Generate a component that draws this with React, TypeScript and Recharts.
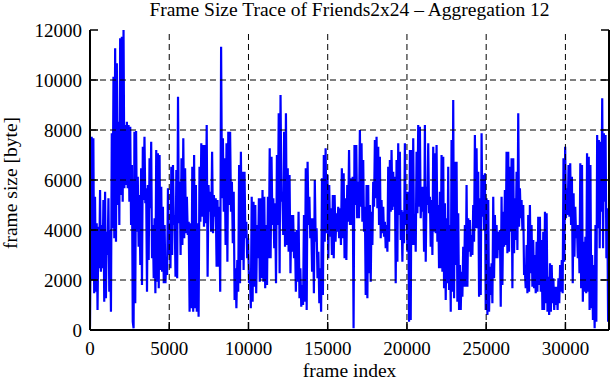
import React from "react";
import { Line, LineChart, ReferenceLine, XAxis, YAxis } from "recharts";

// frame size readings (byte), one array per stretch of the trace
const sizes1 = [
  130, 5100, 7730, 2000, 7670, 1470, 5330, 1530, 4270, 800, 4130, 2470, 5600, 2330, 4200, 2470, 5200, 1130,
  5530, 1270, 3930, 3000, 5270, 1530, 4000, 730, 7870, 4070, 10130, 3670, 11270, 3530, 10670, 5000, 8330,
  4200, 11670, 5400, 11730, 5130, 12000, 5670, 8200, 5800, 8330, 5670, 8200, 5130, 8130, 4200, 6600, 330, 70,
  7930, 1070, 7960, 3930, 6130, 3330, 5400, 2600, 6470, 1800, 7330, 5200, 7730, 5070, 5670, 1530, 5800, 2800,
  6870, 4870, 7530, 2870, 4200, 2070, 4470, 1470, 7200, 1930, 7070, 1670, 7000, 2400, 5730, 2330, 4930, 1870,
  4200, 1870, 2930, 2200, 5670, 3000, 4270, 2470, 6530, 3000, 6600, 4200, 4600, 2130, 6400, 2070, 9330, 4270,
];
const sizes2 = [
  5930, 3000, 6870, 3400, 7670, 3670, 6470, 3870, 5330, 3800, 4330, 730, 4270, 870, 6530, 730, 7000, 870, 5800,
  730, 4270, 530, 6530, 4330, 7470, 4530, 7400, 4130, 7400, 4270, 8200, 2130, 5800, 4730, 5530, 3930, 7130,
  3870, 5400, 4530, 5270, 2530, 5200, 2530, 4930, 1530, 11330, 5270, 7670, 4730, 6870, 3400, 7470, 2730, 7930,
  5000, 7930, 4730, 5930, 3470, 5530, 1200, 2470, 870, 2800, 1530, 6600, 1870, 7130, 2800, 6330, 2400, 6330,
  3670, 4330, 2870, 3670, 1870, 2330, 870, 5330, 1130, 5130, 1730, 5000, 1470, 4200, 2870, 5270, 1930, 5270,
  2070, 5600, 1930, 5330, 1670, 4200, 1800, 5330, 2870,
];
const sizes3 = [
  7270, 2870, 6930, 4200, 5270, 3270, 5070, 1870, 7000, 4200, 8670, 2270, 9400, 5130, 5530, 3800, 7930, 3330,
  8670, 3400, 6470, 3130, 6200, 2270, 4600, 3130, 4600, 2870, 3930, 1530, 4000, 1930, 4730, 1270, 2470, 930,
  1800, 1000, 4600, 1130, 6470, 800, 6730, 4200, 5330, 3670, 4470, 2330, 4470, 1470, 6000, 3530, 4070, 2070,
  3130, 1070, 2470, 730, 6070, 1400, 7000, 3530, 7270, 3870, 6200, 2870, 5800, 3730, 4870, 3000, 5400, 2870,
  5400, 3530, 4670, 3930, 4930, 3670, 4870, 3400, 6470, 3670, 6270, 2870, 5270, 2800, 5800, 4330, 7200, 4200,
  6070, 4200, 6130, 70, 7400, 5000, 7400, 4470, 5930, 4470,
];
const sizes4 = [
  8000, 4930, 7470, 4330, 6800, 3930, 4930, 1400, 5800, 1270, 5800, 2270, 5000, 1930, 4730, 3400, 5930, 4930,
  7600, 5270, 7730, 4870, 7330, 4200, 6930, 3670, 5200, 3870, 4930, 3730, 4330, 3270, 4200, 3130, 6530, 3530,
  6800, 4730, 7200, 4800, 6330, 4930, 6130, 1870, 6800, 2730, 7470, 4600, 7130, 3600, 4800, 2730, 4730, 3470,
  7470, 4200, 5530, 3130, 5530, 330, 7200, 400, 7200, 3400, 7670, 3400, 4600, 3130, 7130, 4670, 8200, 4930,
  8130, 4470, 5730, 4730, 5730, 3130, 8200, 2730, 5730, 5000, 7470, 4670, 5330, 3330, 5200, 3000, 7330, 3930,
  7070, 3870, 7400, 3530, 5000, 2470, 5530, 2470, 7000, 2330, 6930, 1670, 5070, 1200, 4470, 1870, 6530, 1600,
];
const sizes5 = [
  4200, 730, 7600, 1530, 9200, 1270, 6730, 2600, 6730, 1130, 4670, 800, 2600, 800, 2330, 1330, 3330, 1730,
  4200, 1730, 5800, 1730, 4470, 3130, 4400, 2930, 3800, 3000, 5000, 3530, 7800, 4070, 7270, 4070, 6330, 1330,
  5270, 1400, 7870, 4530, 6200, 4000, 6270, 800, 5270, 600, 5200, 730, 2530, 1400, 2670, 1070, 5330, 2070,
  4600, 2870, 4200, 2870, 3930, 3200, 4000, 930, 5330, 1800, 4730, 3330, 5600, 3400, 7130, 3070, 7130, 3130,
  6530, 3930, 6870, 1670, 6870, 3070, 5270, 3600, 6330, 3200, 8670, 4130, 5670, 4470, 5200, 4000, 5000, 2200,
  2330, 1670, 3400, 1470, 4600, 1530, 5000, 2270, 4200, 1730, 3600, 1670, 3000, 1470, 3530, 1530, 4530, 1800,
];
const sizes6 = [
  4530, 1530, 3600, 800, 3930, 800, 4730, 1070, 4670, 730, 2130, 600, 2670, 730, 2600, 1070, 2070, 800, 1730,
  1000, 1730, 800, 2070, 1070, 2600, 1530, 2800, 1470, 6870, 2730, 7330, 4470, 5670, 4600, 6600, 4530, 6670,
  4200, 6130, 1870, 5470, 2930, 4930, 3670, 4200, 2870, 4200, 2270, 6670, 1670, 6600, 1130, 3530, 1530, 3730,
  1470, 7070, 1530, 6930, 800, 6600, 870, 3000, 400, 2600, 70, 4200, 330, 7800, 4070, 7600, 3270, 7530, 4730,
  9270, 3270, 7870, 5130, 7800, 2870, 4870, 330, 3130,
];

// frame index range covered by each stretch
const stretchStart = [0, 5660, 11340, 17030, 22710, 28390];
const stretchEnd = [5660, 11340, 17030, 22710, 28390, 32800];

const xTicks = [0, 5000, 10000, 15000, 20000, 25000, 30000];
const yTicks = [0, 2000, 4000, 6000, 8000, 10000, 12000];
const xGrid = [5000, 10000, 15000, 20000, 25000, 30000];
const yGrid = [2000, 4000, 6000, 8000, 10000];

const stretches = [sizes1, sizes2, sizes3, sizes4, sizes5, sizes6];
const data = stretches.flatMap((vals, s) =>
  vals.map((size, j) => ({
    frame: Math.round(stretchStart[s] + ((stretchEnd[s] - stretchStart[s]) * j) / vals.length),
    size,
  }))
);

const FONT = '"Liberation Serif", "Times New Roman", serif';
const TICK_LEN = 8;

function BottomTick({ x, y, payload }: any) {
  return (
    <g>
      <line x1={x} y1={y} x2={x} y2={y - TICK_LEN} stroke="#000" strokeWidth={1.5} />
      <text x={x} y={y + 25} textAnchor="middle" fontSize={19} fontFamily={FONT} fill="#000">
        {payload.value}
      </text>
    </g>
  );
}

function TopTick({ x, y }: any) {
  return <line x1={x} y1={y} x2={x} y2={y + TICK_LEN} stroke="#000" strokeWidth={1.5} />;
}

function LeftTick({ x, y, payload }: any) {
  return (
    <g>
      <line x1={x} y1={y} x2={x + TICK_LEN} y2={y} stroke="#000" strokeWidth={1.5} />
      <text x={x - 8} y={y + 7} textAnchor="end" fontSize={19} fontFamily={FONT} fill="#000">
        {payload.value}
      </text>
    </g>
  );
}

function RightTick({ x, y }: any) {
  return <line x1={x} y1={y} x2={x - TICK_LEN} y2={y} stroke="#000" strokeWidth={1.5} />;
}

const border = { stroke: "#000", strokeWidth: 2 };

export default function App() {
  return (
    <div style={{ position: "absolute", left: 0, top: 0, width: 611, height: 380, background: "#fff" }}>
      <svg width={611} height={30} style={{ position: "absolute", left: 0, top: 0 }}>
        <text x={349.5} y={16} textAnchor="middle" fontSize={19.5} fontFamily={FONT} fill="#000">
          Frame Size Trace of Friends2x24 – Aggregation 12
        </text>
      </svg>
      <LineChart width={611} height={380} data={data} margin={{ top: 30, right: 1, bottom: 0, left: 0 }}>
        <XAxis
          dataKey="frame"
          type="number"
          domain={[0, 32750]}
          allowDataOverflow
          ticks={xTicks}
          interval={0}
          height={50}
          tickSize={0}
          tickMargin={0}
          tickLine={false}
          axisLine={border}
          tick={<BottomTick />}
          label={({ viewBox }: any) => (
            <text
              x={viewBox.x + viewBox.width / 2}
              y={viewBox.y + 47}
              textAnchor="middle"
              fontSize={19.5}
              fontFamily={FONT}
              fill="#000"
            >
              frame index
            </text>
          )}
        />
        <XAxis
          xAxisId="top"
          orientation="top"
          dataKey="frame"
          type="number"
          domain={[0, 32750]}
          allowDataOverflow
          ticks={xTicks}
          interval={0}
          height={0}
          tickSize={0}
          tickMargin={0}
          tickLine={false}
          axisLine={border}
          tick={<TopTick />}
        />
        <YAxis
          type="number"
          domain={[0, 12000]}
          allowDataOverflow
          ticks={yTicks}
          interval={0}
          width={90}
          tickSize={0}
          tickMargin={0}
          tickLine={false}
          axisLine={border}
          tick={<LeftTick />}
          label={({ viewBox }: any) => {
            const cx = 17;
            const cy = viewBox.y + viewBox.height / 2 + 3;
            return (
              <text
                x={cx}
                y={cy}
                transform={`rotate(-90, ${cx}, ${cy})`}
                textAnchor="middle"
                fontSize={19.5}
                fontFamily={FONT}
                fill="#000"
              >
                frame size [byte]
              </text>
            );
          }}
        />
        <YAxis
          yAxisId="right"
          orientation="right"
          type="number"
          domain={[0, 12000]}
          allowDataOverflow
          ticks={yTicks}
          interval={0}
          width={1}
          tickSize={0}
          tickMargin={0}
          tickLine={false}
          axisLine={border}
          tick={<RightTick />}
        />
        <Line
          dataKey="size"
          type="linear"
          stroke="#0000ff"
          strokeWidth={2.2}
          dot={false}
          activeDot={false}
          isAnimationActive={false}
        />
        {xGrid.map((v) => (
          <ReferenceLine key={`x${v}`} x={v} stroke="#000" strokeWidth={1} strokeDasharray="6 4" />
        ))}
        {yGrid.map((v) => (
          <ReferenceLine key={`y${v}`} y={v} stroke="#000" strokeWidth={1} strokeDasharray="6 4" />
        ))}
      </LineChart>
    </div>
  );
}
